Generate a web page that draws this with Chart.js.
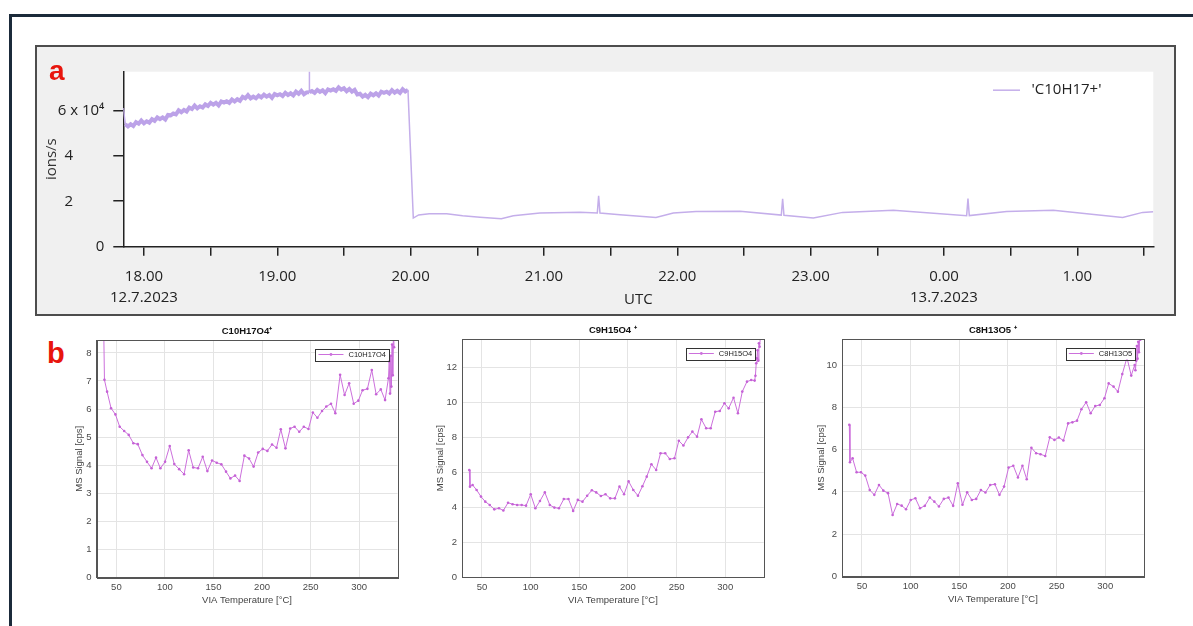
<!DOCTYPE html>
<html>
<head>
<meta charset="utf-8">
<title>C10H17+ time series and VIA temperature scans</title>
<script src="https://cdn.jsdelivr.net/npm/chart.js@4.4.1/dist/chart.umd.min.js"></script>
<style>
  html, body { margin: 0; padding: 0; background: #fff; }
  body { position: relative; width: 1193px; height: 626px; overflow: hidden; }
  #frame { position: absolute; left: 9px; top: 14px; width: 1300px; height: 700px;
           border-left: 3px solid #1b2a3a; border-top: 3px solid #1b2a3a; }
  #panelA { position: absolute; left: 35px; top: 45px; width: 1137px; height: 267px;
            background: #f0f0f0; border: 2px solid #4d4d4d; }
  #panelA canvas { position: absolute; left: 0; top: 0; }
  .tag { position: absolute; color: #e8150d; font: bold 28px "Liberation Sans", Arial, sans-serif; line-height: 28px; }
  .scan { position: absolute; }
</style>
</head>
<body>
<div id="frame"></div>
<div id="panelA"><canvas id="series" width="1137" height="267"></canvas></div>
<div class="tag" style="left:49px;top:57px">a</div>
<div class="tag" style="left:47px;top:339px;font-size:29px">b</div>
<canvas class="scan" id="scan1" width="346" height="292" style="left:60px;top:320px"></canvas>
<canvas class="scan" id="scan2" width="347" height="293" style="left:425px;top:319px"></canvas>
<canvas class="scan" id="scan3" width="347" height="292" style="left:805px;top:319px"></canvas>

<script>
// ---- panel a: C10H17+ signal, hours UTC (after midnight counted on as 24, 25 ...) ----
const utcHours = [
  17.845, 17.86, 17.88, 17.90, 17.92, 17.94, 17.96, 17.98,
  18.00, 18.02, 18.04, 18.06, 18.08, 18.10, 18.12, 18.14, 18.16, 18.18,
  18.20, 18.22, 18.24, 18.26, 18.28, 18.30, 18.32, 18.34, 18.36, 18.38,
  18.40, 18.42, 18.44, 18.46, 18.48, 18.50, 18.52, 18.54, 18.56, 18.58,
  18.60, 18.62, 18.64, 18.66, 18.68, 18.70, 18.72, 18.74, 18.76, 18.78,
  18.80, 18.82, 18.84, 18.86, 18.88, 18.90, 18.92, 18.94, 18.96, 18.98,
  19.00, 19.02, 19.04, 19.06, 19.08, 19.10, 19.12, 19.14, 19.16, 19.18,
  19.20, 19.22, 19.238, 19.24, 19.242, 19.26, 19.28, 19.30, 19.32, 19.34, 19.36, 19.38,
  19.40, 19.42, 19.44, 19.46, 19.48, 19.50, 19.52, 19.54, 19.56, 19.58,
  19.60, 19.62, 19.64, 19.66, 19.68, 19.70, 19.72, 19.74, 19.76, 19.78,
  19.80, 19.82, 19.84, 19.86, 19.88, 19.90, 19.92, 19.94, 19.96, 19.98,
  20.02, 20.06, 20.14, 20.27, 20.39, 20.52, 20.68, 20.77, 20.97, 21.27,
  21.40, 21.41, 21.42, 21.57, 21.84, 21.97, 22.14, 22.47, 22.78, 22.79,
  22.80, 23.02, 23.24, 23.62, 24.17, 24.18, 24.19, 24.47, 24.82, 25.34,
  25.49, 25.57
];
// ions/s in units of 10^4
const ionRate = [
  6.10, 5.39, 5.29, 5.39, 5.31, 5.48, 5.41, 5.55,
  5.43, 5.52, 5.46, 5.61, 5.54, 5.69, 5.61, 5.69, 5.60, 5.80,
  5.78, 5.86, 5.82, 6.00, 5.92, 6.02, 5.95, 6.12, 6.06, 6.21,
  6.09, 6.18, 6.12, 6.26, 6.19, 6.33, 6.25, 6.33, 6.22, 6.39,
  6.34, 6.40, 6.33, 6.48, 6.39, 6.49, 6.42, 6.59, 6.53, 6.67,
  6.53, 6.60, 6.53, 6.65, 6.57, 6.69, 6.60, 6.67, 6.55, 6.72,
  6.66, 6.71, 6.63, 6.77, 6.67, 6.75, 6.66, 6.82, 6.73, 6.86,
  6.71, 6.79, 6.80, 7.90, 6.80, 6.85, 6.77, 6.90, 6.81, 6.88, 6.76, 6.92,
  6.87, 6.93, 6.86, 7.01, 6.91, 6.97, 6.84, 6.94, 6.82, 6.90,
  6.70, 6.73, 6.60, 6.68, 6.58, 6.73, 6.66, 6.75, 6.65, 6.82,
  6.77, 6.82, 6.74, 6.89, 6.78, 6.86, 6.77, 6.93, 6.83, 6.90,
  1.26, 1.40, 1.45, 1.45, 1.36, 1.30, 1.23, 1.36, 1.48, 1.52,
  1.48, 2.24, 1.48, 1.41, 1.29, 1.48, 1.55, 1.56, 1.39, 2.11,
  1.38, 1.26, 1.51, 1.60, 1.36, 2.12, 1.37, 1.55, 1.60, 1.29,
  1.51, 1.54
];
const dateTickHours = [18, 24];
const dateTickLabels = ['12.7.2023', '13.7.2023'];

// ---- panel b: signal vs VIA temperature ----
const viaTemp = [
  37, 37.7, 40.4, 44.5, 49, 53.4, 58, 62.7, 67.5, 72,
  76.8, 81.5, 86.2, 90.8, 95.3, 100.1, 104.9, 109.6, 114.6, 119.7,
  124.4, 129.1, 134.1, 138.9, 143.7, 148.5, 153.3, 158.1, 162.9, 167.4,
  172.2, 176.9, 181.8, 186.6, 191.3, 196, 200.7, 205.5, 210.3, 214.9,
  219.3, 224.1, 229, 233.5, 238.3, 243, 247.8, 252.3, 257, 261.8,
  266.2, 271, 275.5, 280.4, 285, 289.7, 294.4, 299.2, 303.5, 308.5,
  313, 317.5, 322.3, 326.7, 330.2, 331, 331.8, 332.5, 333.2, 333.9,
  334.6, 335.3, 336
];
const c10h17o4 = [
  8.70, 7.04, 6.62, 6.03, 5.81, 5.37, 5.22, 5.08, 4.78, 4.75,
  4.36, 4.12, 3.89, 4.27, 3.89, 4.12, 4.68, 4.04, 3.86, 3.68,
  4.53, 3.92, 3.89, 4.30, 3.79, 4.17, 4.09, 4.03, 3.77, 3.53,
  3.63, 3.44, 4.34, 4.24, 3.95, 4.45, 4.58, 4.51, 4.74, 4.62,
  5.28, 4.60, 5.31, 5.37, 5.19, 5.37, 5.29, 5.88, 5.69, 5.93,
  6.09, 6.19, 5.85, 7.22, 6.50, 6.92, 6.19, 6.30, 6.67, 6.72,
  7.39, 6.53, 6.70, 6.32, 7.10, 7.70, 6.55, 7.90, 6.80, 8.30,
  7.20, 8.70, 8.20
];
const c9h15o4 = [
  6.14, 5.19, 5.28, 5.00, 4.62, 4.33, 4.14, 3.89, 3.95, 3.82,
  4.27, 4.18, 4.14, 4.14, 4.10, 4.75, 3.95, 4.37, 4.86, 4.14,
  3.99, 3.95, 4.48, 4.48, 3.80, 4.43, 4.33, 4.67, 4.98, 4.86,
  4.65, 4.75, 4.52, 4.52, 5.19, 4.75, 5.49, 5.00, 4.67, 5.21,
  5.76, 6.47, 6.14, 7.10, 7.10, 6.77, 6.81, 7.82, 7.54, 8.01,
  8.34, 8.05, 9.04, 8.53, 8.53, 9.48, 9.52, 9.96, 9.67, 10.28,
  9.39, 10.63, 11.20, 11.29, 11.26, 11.54, 12.25, 12.53, 13.00, 12.40,
  13.40, 13.20, 13.70
];
const c8h13o5 = [
  7.17, 5.40, 5.59, 4.93, 4.93, 4.77, 4.09, 3.86, 4.33, 4.06,
  3.94, 2.91, 3.43, 3.35, 3.18, 3.62, 3.70, 3.23, 3.34, 3.73,
  3.54, 3.31, 3.67, 3.73, 3.34, 4.41, 3.39, 3.98, 3.62, 3.67,
  4.09, 3.97, 4.33, 4.36, 3.86, 4.25, 5.15, 5.24, 4.68, 5.24,
  4.60, 6.09, 5.83, 5.78, 5.70, 6.58, 6.46, 6.57, 6.43, 7.24,
  7.29, 7.37, 7.91, 8.24, 7.72, 8.06, 8.11, 8.43, 9.13, 8.98,
  8.74, 9.57, 10.35, 9.50, 10.00, 9.75, 10.20, 10.90, 10.30, 11.10,
  10.60, 11.40, 11.20
];

const FONT_A = '"Open Sans", "Noto Sans", sans-serif';
const FONT_B = '"Liberation Sans", Arial, sans-serif';

// white plot area on the grey panel
const plotBg = {
  id: 'plotBg',
  beforeDraw(chart) {
    const { ctx, chartArea: a } = chart;
    ctx.save();
    ctx.fillStyle = '#fff';
    ctx.fillRect(a.left, a.top, a.width, a.height);
    ctx.restore();
  }
};

// box round the plot (matlab style)
const plotFrame = {
  id: 'plotFrame',
  afterDraw(chart) {
    const { ctx, chartArea: a } = chart;
    ctx.save();
    ctx.strokeStyle = '#555';
    ctx.lineWidth = 1;
    ctx.strokeRect(Math.round(a.left) + 0.5, Math.round(a.top) + 0.5, Math.round(a.width), Math.round(a.height));
    ctx.restore();
  }
};

// legend drawn inside the plot area
const legendInPlot = {
  id: 'legendInPlot',
  afterDatasetsDraw(chart, args, o) {
    const { ctx, chartArea: a } = chart;
    const ds = chart.data.datasets[0];
    ctx.save();
    ctx.font = o.font;
    const tw = ctx.measureText(ds.label).width;
    const w = o.pad * 2 + o.lineLen + o.gap + tw;
    const x0 = o.fromRight != null ? a.right - o.fromRight : a.right - o.right - w;
    const yc = a.top + o.top;
    if (o.box) {
      ctx.fillStyle = '#fff';
      ctx.fillRect(x0, yc - o.boxH / 2, w, o.boxH);
      ctx.strokeStyle = '#333';
      ctx.lineWidth = 1;
      ctx.strokeRect(Math.round(x0) + 0.5, Math.round(yc - o.boxH / 2) + 0.5, Math.round(w), Math.round(o.boxH));
    }
    ctx.strokeStyle = ds.borderColor;
    ctx.lineWidth = o.lineWidth;
    ctx.beginPath();
    ctx.moveTo(x0 + o.pad, yc);
    ctx.lineTo(x0 + o.pad + o.lineLen, yc);
    ctx.stroke();
    if (o.marker) {
      ctx.fillStyle = ds.borderColor;
      ctx.beginPath();
      ctx.arc(x0 + o.pad + o.lineLen / 2, yc, 1.4, 0, Math.PI * 2);
      ctx.fill();
    }
    ctx.fillStyle = o.color;
    ctx.textAlign = 'left';
    ctx.textBaseline = 'middle';
    ctx.fillText(ds.label, x0 + o.pad + o.lineLen + o.gap, yc);
    ctx.restore();
  }
};

// noisy part before the switch is drawn as a thick band
function isBand(c) {
  return c.p0.parsed.x < 20 && Math.abs(c.p1.parsed.y - c.p0.parsed.y) < 0.5;
}

new Chart(document.getElementById('series'), {
  type: 'line',
  data: {
    datasets: [{
      label: "'C10H17+'",
      data: utcHours.map((h, i) => ({ x: h, y: ionRate[i] })),
      borderColor: '#c4aeea',
      borderWidth: 1.5,
      pointRadius: 0,
      segment: {
        borderWidth: c => isBand(c) ? 4 : 1.5,
        borderColor: c => isBand(c) ? '#bca2e8' : '#c4aeea'
      }
    }]
  },
  options: {
    responsive: false,
    animation: false,
    layout: { padding: { left: 0, top: 24.7, right: 20.7, bottom: 0 } },
    plugins: {
      legend: { display: false },
      tooltip: { enabled: false },
      legendInPlot: {
        font: '15px ' + FONT_A, color: '#222', fromRight: 160.3, top: 18.5,
        pad: 0, lineLen: 27, gap: 11.5, lineWidth: 1.5, box: false, marker: false
      }
    },
    scales: {
      x: {
        type: 'linear',
        min: 17.845,
        max: 25.57,
        afterFit: s => { s.height = 67.3; },
        border: { color: '#222', width: 1.5 },
        grid: { drawOnChartArea: false, drawTicks: true, tickLength: 9, color: '#222', lineWidth: 1.5 },
        ticks: {
          stepSize: 0.5,
          includeBounds: false,
          autoSkip: false,
          maxTicksLimit: 40,
          maxRotation: 0,
          padding: 11,
          color: '#222',
          font: { family: FONT_A, size: 15, lineHeight: 1.4 },
          callback: v => {
            if (v % 1 !== 0) return '';
            const lbl = (v % 24) + '.00';
            const k = dateTickHours.indexOf(v);
            return k >= 0 ? [lbl, dateTickLabels[k]] : lbl;
          }
        },
        title: {
          display: true, text: 'UTC', color: '#222',
          font: { family: FONT_A, size: 15, lineHeight: 1.2 },
          padding: { top: 0, bottom: 5 }
        }
      },
      y: {
        min: 0,
        max: 7.7,
        afterFit: s => { s.width = 86.3; },
        border: { color: '#222', width: 1.5 },
        grid: { drawOnChartArea: false, drawTicks: true, tickLength: 10, color: '#222', lineWidth: 1.5 },
        ticks: {
          stepSize: 2,
          includeBounds: false,
          padding: 9,
          color: '#222',
          font: { family: FONT_A, size: 15 },
          callback: v => v === 6 ? '6 x 10\u2074' : (v === 0 ? '0' : v + '        ')
        },
        title: {
          display: true, text: 'ions/s', color: '#333',
          font: { family: FONT_A, size: 15, lineHeight: 1.2 },
          padding: { top: 6, bottom: 0 }
        }
      }
    }
  },
  plugins: [plotBg, legendInPlot]
});

function scanChart(id, label, title, values, yMax, yStep, box) {
  return new Chart(document.getElementById(id), {
    type: 'line',
    data: {
      datasets: [{
        label: label,
        data: viaTemp.map((t, i) => ({ x: t, y: values[i] })),
        borderColor: '#cc70dc',
        backgroundColor: '#c562d6',
        borderWidth: 1,
        pointRadius: 1.3,
        pointBorderWidth: 0,
        pointBackgroundColor: '#c562d6'
      }]
    },
    options: {
      responsive: false,
      animation: false,
      layout: { padding: { left: 0, top: 0, right: box.padRight, bottom: 0 } },
      plugins: {
        legend: { display: false },
        tooltip: { enabled: false },
        title: {
          display: true, text: title, color: '#111', fullSize: false,
          font: { family: FONT_B, size: 9.5, weight: 'bold', lineHeight: 1.2 },
          padding: { top: 6, bottom: 2.6 }
        },
        legendInPlot: {
          font: '7.5px ' + FONT_B, color: '#222', right: 8.5, top: 14.5,
          pad: 3, lineLen: 25, gap: 5, lineWidth: 1, box: true, boxH: 12, marker: true
        }
      },
      scales: {
        x: {
          type: 'linear',
          min: 29.5,
          max: 339.5,
          afterFit: s => { s.height = box.xHeight; },
          border: { color: '#555' },
          grid: { color: '#e4e4e4', drawTicks: false },
          ticks: {
            stepSize: 50, includeBounds: false, padding: 4, maxRotation: 0,
            color: '#4a4a4a', font: { family: FONT_B, size: 9.5 }
          },
          title: {
            display: true, text: 'VIA Temperature [°C]', color: '#444',
            font: { family: FONT_B, size: 9.5, lineHeight: 1.2 },
            padding: { top: 0, bottom: 6.3 }
          }
        },
        y: {
          min: 0,
          max: yMax,
          afterFit: s => { s.width = box.yWidth; },
          border: { color: '#555' },
          grid: { color: '#e4e4e4', drawTicks: false },
          ticks: {
            stepSize: yStep, includeBounds: false, padding: 5,
            color: '#4a4a4a', font: { family: FONT_B, size: 9.5 }
          },
          title: {
            display: true, text: 'MS Signal [cps]', color: '#444',
            font: { family: FONT_B, size: 9.5, lineHeight: 1.2 },
            padding: { top: box.yTitlePad, bottom: 0 }
          }
        }
      }
    },
    plugins: [plotFrame, legendInPlot]
  });
}

scanChart('scan1', 'C10H17O4', 'C10H17O4\u207A', c10h17o4, 8.46, 1,
  { yWidth: 36.5, xHeight: 34.5, padRight: 8.5, yTitlePad: 13.6 });
scanChart('scan2', 'C9H15O4', 'C9H15O4 \u207A', c9h15o4, 13.64, 2,
  { yWidth: 37, xHeight: 34.7, padRight: 8.3, yTitlePad: 10 });
scanChart('scan3', 'C8H13O5', 'C8H13O5 \u207A', c8h13o5, 11.23, 2,
  { yWidth: 37, xHeight: 34.5, padRight: 8.3, yTitlePad: 10.5 });
</script>
</body>
</html>
